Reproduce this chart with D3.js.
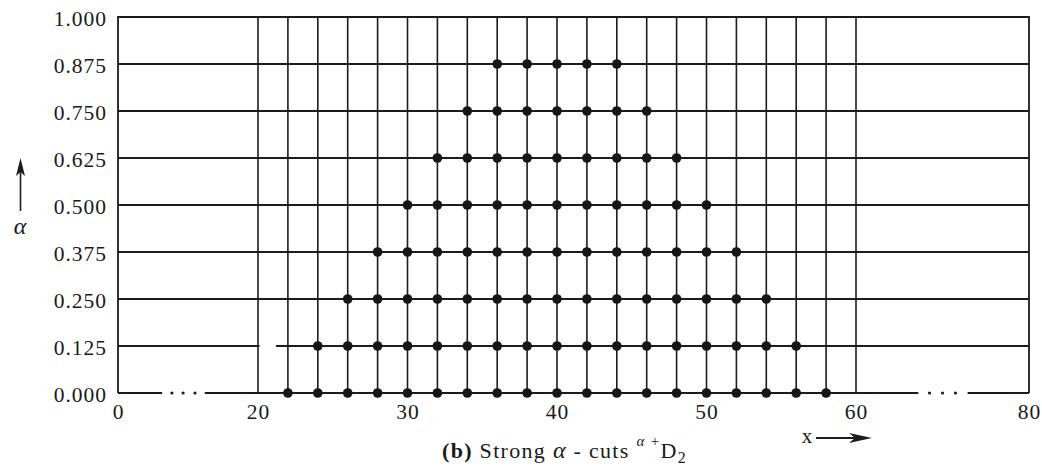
<!DOCTYPE html>
<html>
<head>
<meta charset="utf-8">
<script src="https://cdn.jsdelivr.net/npm/d3@7"></script>
<style>
  html, body { margin: 0; padding: 0; background: #fff; }
  svg { display: block; }
  text { font-family: "Liberation Serif", "Times New Roman", serif; fill: #1a1a1a; }
</style>
</head>
<body>
<svg id="chart" width="1042" height="475"></svg>
<script>
// Alpha levels and the bounds of each strong alpha-cut (support points are the even x values)
const alphaLevels = [0, 0.125, 0.25, 0.375, 0.5, 0.625, 0.75, 0.875];
const cutLower    = [22, 24, 26, 28, 30, 32, 34, 36];
const cutUpper    = [58, 56, 54, 52, 50, 48, 46, 44];

// Axis ticks
const xTickValues = [0, 20, 30, 40, 50, 60, 80];
const yTickValues = [0, 0.125, 0.25, 0.375, 0.5, 0.625, 0.75, 0.875, 1];
// Vertical grid (every 2 units inside the detailed band)
const gridXValues = [20, 22, 24, 26, 28, 30, 32, 34, 36, 38, 40, 42, 44, 46, 48, 50, 52, 54, 56, 58, 60];
// Broken-axis ellipses on the baseline (data units)
const leftBreak  = { from: 6.3, to: 12.4, dots: [7.7, 9.3, 11.0] };
const rightBreak = { from: 67.2, to: 72.9, dots: [68.5, 70.0, 71.5] };

const svg = d3.select("#chart");

// Piecewise x scale: compressed ends, detailed 20..60 band
const x = d3.scaleLinear().domain([0, 20, 60, 80]).range([118, 258, 856, 1029]);
const y = d3.scaleLinear().domain([0, 1]).range([393, 17]);

const ink = "#1c1c1c";
const serif = '"Liberation Serif", "Times New Roman", serif';

// Horizontal grid lines (baseline drawn separately with its breaks)
svg.append("g").selectAll("line")
  .data(yTickValues.filter(v => v > 0 && v !== 0.125))
  .join("line")
  .attr("x1", x(0)).attr("x2", x(80))
  .attr("y1", d => y(d)).attr("y2", d => y(d))
  .attr("stroke", ink).attr("stroke-width", 1.8);

// 0.125 line has a small break just right of x = 20
svg.append("line")
  .attr("x1", x(0)).attr("x2", x(20.1))
  .attr("y1", y(0.125)).attr("y2", y(0.125))
  .attr("stroke", ink).attr("stroke-width", 1.8);
svg.append("line")
  .attr("x1", x(21.2)).attr("x2", x(80))
  .attr("y1", y(0.125)).attr("y2", y(0.125))
  .attr("stroke", ink).attr("stroke-width", 1.8);

// Baseline with ellipsis breaks
const baseSegs = [[0, leftBreak.from], [leftBreak.to, rightBreak.from], [rightBreak.to, 80]];
svg.append("g").selectAll("line")
  .data(baseSegs)
  .join("line")
  .attr("x1", d => x(d[0])).attr("x2", d => x(d[1]))
  .attr("y1", y(0)).attr("y2", y(0))
  .attr("stroke", ink).attr("stroke-width", 2.2);
svg.append("g").selectAll("circle")
  .data(leftBreak.dots.concat(rightBreak.dots))
  .join("circle")
  .attr("cx", d => x(d)).attr("cy", y(0)).attr("r", 1.6)
  .attr("fill", ink);

// Vertical grid lines
svg.append("g").selectAll("line")
  .data(gridXValues)
  .join("line")
  .attr("x1", d => x(d)).attr("x2", d => x(d))
  .attr("y1", y(1)).attr("y2", y(0))
  .attr("stroke", ink).attr("stroke-width", 1.6);

// Frame: left, right and top edges
svg.append("path")
  .attr("d", `M${x(0)},${y(0)} V${y(1)} H${x(80)} V${y(0)}`)
  .attr("fill", "none").attr("stroke", ink).attr("stroke-width", 1.8);

// Points of the strong alpha-cuts
const points = [];
alphaLevels.forEach((a, i) => {
  d3.range(cutLower[i], cutUpper[i] + 1, 2).forEach(v => points.push({ x: v, a }));
});
svg.append("g").selectAll("circle")
  .data(points)
  .join("circle")
  .attr("cx", d => x(d.x)).attr("cy", d => y(d.a)).attr("r", 4.8)
  .attr("fill", "#161616");

// Y axis tick labels
const yAxis = d3.axisLeft(y).tickValues(yTickValues).tickFormat(d3.format(".3f"))
  .tickSize(0).tickPadding(11);
const gy = svg.append("g").attr("transform", `translate(${x(0)},0)`).call(yAxis);
gy.select(".domain").remove();
gy.selectAll("text").attr("font-size", 21.5).attr("dy", "0.4em")
  .style("font-family", serif).style("letter-spacing", "1px").attr("fill", ink);

// X axis tick labels
const xAxis = d3.axisBottom(x).tickValues(xTickValues).tickFormat(d3.format("d"))
  .tickSize(0).tickPadding(11);
const gx = svg.append("g").attr("transform", `translate(0,${y(0)})`).call(xAxis);
gx.select(".domain").remove();
gx.selectAll("text").attr("font-size", 21.5)
  .style("font-family", serif).style("letter-spacing", "1px").attr("fill", ink);

// Alpha axis arrow and label
svg.append("line").attr("x1", 20.5).attr("x2", 20.5).attr("y1", 170).attr("y2", 211)
  .attr("stroke", ink).attr("stroke-width", 1.6);
svg.append("path").attr("d", "M20.5,158 L16,176 L20.5,172 L25,176 Z").attr("fill", ink);
svg.append("text").attr("x", 20).attr("y", 234).attr("text-anchor", "middle")
  .attr("font-size", 24).attr("font-style", "italic").text("α");

// x arrow
svg.append("text").attr("x", 807).attr("y", 443).attr("text-anchor", "middle")
  .attr("font-size", 21).text("x");
svg.append("line").attr("x1", 816).attr("x2", 858).attr("y1", 438).attr("y2", 438)
  .attr("stroke", ink).attr("stroke-width", 1.8);
svg.append("path").attr("d", "M872,438 L849,433 L855,438 L849,443 Z").attr("fill", ink);

// Caption
const cap = svg.append("text").attr("x", 442).attr("y", 458).attr("font-size", 22)
  .style("letter-spacing", "1.3px");
cap.append("tspan").attr("font-weight", "bold").text("(b)");
cap.append("tspan").text(" Strong ");
cap.append("tspan").attr("font-style", "italic").attr("font-size", 24).text("α");
cap.append("tspan").text(" - cuts  ");
cap.append("tspan").attr("font-size", 15).attr("font-style", "italic").attr("dy", -12).text("α");
cap.append("tspan").attr("font-size", 15).text(" +");
cap.append("tspan").attr("dy", 12).text("D");
cap.append("tspan").attr("font-size", 16).attr("dy", 5).text("2");
</script>
</body>
</html>
